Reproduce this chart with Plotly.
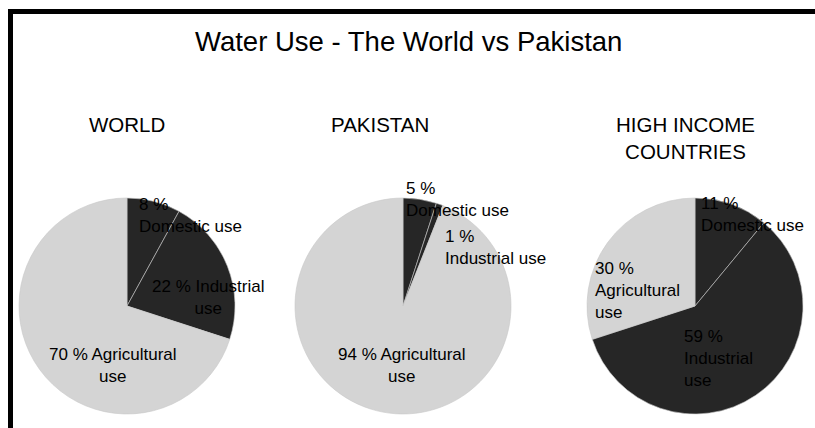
import plotly.graph_objects as go

# ---- data ----
title_text = "Water Use - The World vs Pakistan"
regions = ["WORLD", "PAKISTAN", "HIGH INCOME<br>COUNTRIES"]
categories = ["Domestic use", "Industrial use", "Agricultural use"]
world_values = [8, 22, 70]
pakistan_values = [5, 1, 94]
high_income_values = [11, 59, 30]
all_values = [world_values, pakistan_values, high_income_values]

# label wrapping as in the reference ({v}=value, {a}/{b}=words of category)
label_formats = [
    ["{v} %<br>{a} {b}", "{v} % {a}<br>{b}", "{v} % {a}<br>{b}"],
    ["{v} %<br>{a} {b}", "{v} %<br>{a} {b}", "{v} % {a}<br>{b}"],
    ["{v} %<br>{a} {b}", "{v} %<br>{a}<br>{b}", "{v} %<br>{a}<br>{b}"],
]

# ---- styling ----
W, H = 815, 428
FONT = "Liberation Sans, Arial, sans-serif"
DARK = "#262626"
LIGHT = "#d4d4d4"
slice_colors = [DARK, DARK, LIGHT]

# pie placement (pixels): centre x, centre y, radius
pie_geom = [(127, 306, 108), (403, 306, 108), (695, 306, 108)]
# region title positions (pixels, centre x, top y)
region_title_pos = [(127, 111), (380, 111), (685, 111)]
# label positions (pixels): x, y-centre, anchor  (order: domestic, industrial, agricultural)
label_pos = [
    [(137, 215, "left"), (208, 297, "center"), (113, 365, "center")],
    [(404, 199, "left"), (443, 247, "left"), (402, 365, "center")],
    [(699, 214, "left"), (682, 358, "left"), (593, 290, "left")],
]

fig = go.Figure()
for i, vals in enumerate(all_values):
    cx, cy, r = pie_geom[i]
    fig.add_trace(go.Pie(
        labels=categories,
        values=vals,
        sort=False,
        direction="clockwise",
        rotation=0,
        textinfo="none",
        hoverinfo="label+percent",
        marker=dict(colors=slice_colors, line=dict(color="#c8c8c8", width=0.6)),
        domain=dict(x=[(cx - r) / W, (cx + r) / W],
                    y=[1 - (cy + r) / H, 1 - (cy - r) / H]),
        showlegend=False,
    ))

annotations = []
annotations.append(dict(
    text=title_text, x=408 / W, y=1 - 41 / H, xref="paper", yref="paper",
    xanchor="center", yanchor="middle", showarrow=False,
    font=dict(family=FONT, size=27.5, color="#000000"),
))
for i, name in enumerate(regions):
    x, y = region_title_pos[i]
    annotations.append(dict(
        text=name, x=x / W, y=1 - y / H, xref="paper", yref="paper",
        xanchor="center", yanchor="top", showarrow=False, align="center",
        font=dict(family=FONT, size=20.5, color="#000000"),
    ))
for i, vals in enumerate(all_values):
    for j, v in enumerate(vals):
        a, b = categories[j].split(" ")
        txt = label_formats[i][j].format(v=v, a=a, b=b)
        x, y, anc = label_pos[i][j]
        annotations.append(dict(
            text=txt, x=x / W, y=1 - y / H, xref="paper", yref="paper",
            xanchor=anc, yanchor="middle", showarrow=False, align=anc,
            font=dict(family=FONT, size=17, color="#000000"),
        ))

shapes = [
    dict(type="rect", xref="paper", yref="paper",
         x0=8 / W, x1=13 / W, y0=0, y1=1 - 9 / H,
         fillcolor="#000000", line=dict(width=0), layer="above"),
    dict(type="rect", xref="paper", yref="paper",
         x0=8 / W, x1=1, y0=1 - 14 / H, y1=1 - 9 / H,
         fillcolor="#000000", line=dict(width=0), layer="above"),
]

fig.update_layout(
    width=W, height=H,
    margin=dict(l=0, r=0, t=0, b=0),
    paper_bgcolor="#ffffff",
    plot_bgcolor="#ffffff",
    annotations=annotations,
    shapes=shapes,
    font=dict(family=FONT),
)

fig.write_html(
    "out.html",
    config={"displayModeBar": False},
    post_script="document.body.style.margin='0';document.body.style.padding='0';"
                "document.body.style.overflow='hidden';",
)
